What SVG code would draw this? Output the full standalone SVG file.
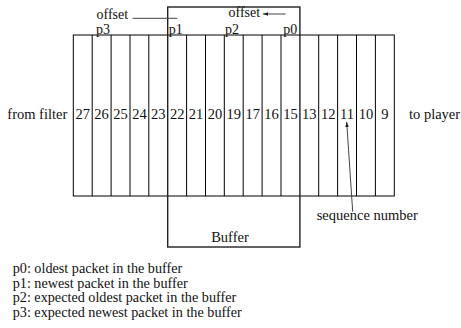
<svg xmlns="http://www.w3.org/2000/svg" width="461" height="328" viewBox="0 0 461 328">
<style>
text{font-family:'Liberation Serif','Times New Roman',Times,serif;font-size:14.5px;fill:#111}
.n{text-anchor:middle}
.s{font-size:14px}
.l{font-size:14.2px}
.c{stroke:#000;stroke-width:1;fill:none}
.g{stroke:#444;stroke-width:1;fill:none}
</style>
<defs>
<marker id="ah" viewBox="0 0 10 10" refX="10" refY="5" markerWidth="5" markerHeight="5" orient="auto-start-reverse" markerUnits="userSpaceOnUse">
<path d="M0,1.5 L10,5 L0,8.5 Z" fill="#222"/>
</marker>
</defs>
<g id="cells">
<rect class="c" x="73.3" y="35" width="321" height="161"/>
<path class="c" d="M92.2,35V196M111.1,35V196M130,35V196M148.8,35V196M186.6,35V196M205.5,35V196M224.3,35V196M243.2,35V196M262.1,35V196M281,35V196M318.7,35V196M337.6,35V196M356.5,35V196M375.4,35V196"/>
<text class="n" x="82.7" y="119">27</text>
<text class="n" x="101.6" y="119">26</text>
<text class="n" x="120.5" y="119">25</text>
<text class="n" x="139.4" y="119">24</text>
<text class="n" x="158.3" y="119">23</text>
<text class="n" x="177.2" y="119">22</text>
<text class="n" x="196" y="119">21</text>
<text class="n" x="214.9" y="119">20</text>
<text class="n" x="233.8" y="119">19</text>
<text class="n" x="252.7" y="119">17</text>
<text class="n" x="271.5" y="119">16</text>
<text class="n" x="290.4" y="119">15</text>
<text class="n" x="309.3" y="119">13</text>
<text class="n" x="328.2" y="119">12</text>
<text class="n" x="347.1" y="119">11</text>
<text class="n" x="365.9" y="119">10</text>
<text class="n" x="384.8" y="119">9</text>
</g>
<g id="buffer">
<rect x="167.7" y="7" width="132.2" height="240" fill="none" stroke="#222" stroke-width="1.4"/>
<text class="n" x="230" y="242">Buffer</text>
</g>
<g id="labels">
<text x="7.3" y="119">from filter</text>
<text x="409" y="119">to player</text>
<text class="s" x="96.5" y="19.3">offset</text>
<text class="s" x="96" y="33.5">p3</text>
<text class="s" x="168.7" y="33.5">p1</text>
<text class="s" x="228.5" y="17.3">offset</text>
<text class="s" x="225" y="33.5">p2</text>
<text class="s" x="283.3" y="33.5">p0</text>
<text x="316.7" y="220">sequence number</text>
</g>
<g id="connectors">
<path class="g" d="M132.7,18.3H177.3"/>
<path class="g" d="M285.7,14H263" marker-end="url(#ah)"/>
<path class="g" d="M352.7,211.7L346.7,122" marker-end="url(#ah)"/>
</g>
<g id="legend">
<text class="l" x="12.7" y="273">p0: oldest packet in the buffer</text>
<text class="l" x="12.7" y="287.7">p1: newest packet in the buffer</text>
<text class="l" x="12.7" y="302.4">p2: expected oldest packet in the buffer</text>
<text class="l" x="12.7" y="317.1">p3: expected newest packet in the buffer</text>
</g>
</svg>
